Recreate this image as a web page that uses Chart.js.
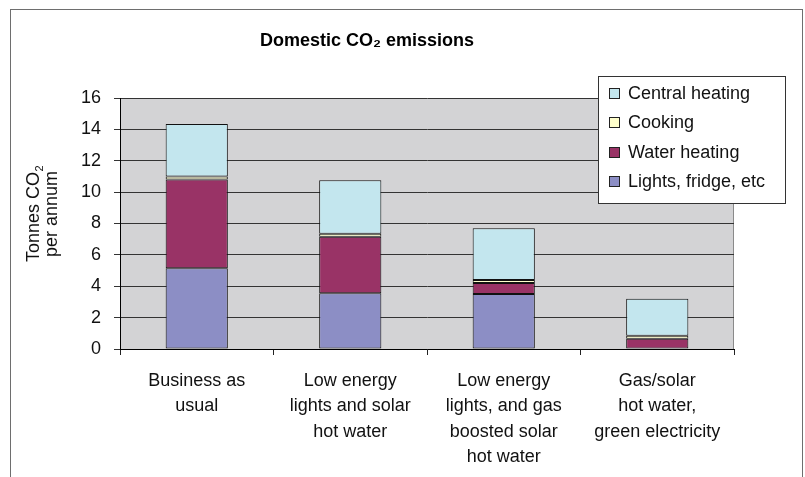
<!DOCTYPE html>
<html>
<head>
<meta charset="utf-8">
<script src="https://cdn.jsdelivr.net/npm/chart.js@4.4.1/dist/chart.umd.min.js"></script>
<style>
  html, body { margin: 0; padding: 0; background: #ffffff; }
  #wrap { width: 805px; height: 477px; position: relative; }
  canvas { display: block; }
</style>
</head>
<body>
<div id="wrap"><canvas id="c" width="805" height="477"></canvas></div>
<script>
// ---- Data ----
const categories = [
  ["Business as", "usual"],
  ["Low energy", "lights and solar", "hot water"],
  ["Low energy", "lights, and gas", "boosted solar", "hot water"],
  ["Gas/solar", "hot water,", "green electricity"]
];
const lightsFridge   = [5.15, 3.55, 3.5, 0];
const waterHeating   = [5.65, 3.6, 0.7, 0.65];
const cooking        = [0.2, 0.2, 0.2, 0.2];
const centralHeating = [3.35, 3.4, 3.3, 2.35];
const yTicks = [0, 2, 4, 6, 8, 10, 12, 14, 16];
const chartTitle = "Domestic CO\u2082 emissions";
const yTitleLine1 = "Tonnes CO";
const yTitleSub = "2";
const yTitleLine2 = "per annum";

const FONT = "'Liberation Sans', Arial, Helvetica, sans-serif";

// Plot background + outer frame
const framePlugin = {
  id: 'framePlugin',
  beforeDraw(chart) {
    const ctx = chart.ctx;
    const a = chart.chartArea;
    ctx.save();
    ctx.fillStyle = '#ffffff';
    ctx.fillRect(0, 0, chart.width, chart.height);
    ctx.strokeStyle = '#6e6e6e';
    ctx.lineWidth = 1;
    ctx.strokeRect(10.5, 9.5, 792, 520);
    ctx.fillStyle = '#d3d3d5';
    ctx.fillRect(a.left, a.top, a.right - a.left, a.bottom - a.top);
    ctx.strokeStyle = '#8a8a8a';
    ctx.beginPath();
    ctx.moveTo(Math.round(a.right) - 0.5, a.top);
    ctx.lineTo(Math.round(a.right) - 0.5, a.bottom);
    ctx.stroke();
    ctx.restore();
  }
};

// Y axis title (two rotated lines with subscript)
const yTitlePlugin = {
  id: 'yTitlePlugin',
  afterDraw(chart) {
    const ctx = chart.ctx;
    const cy = 214;
    ctx.save();
    ctx.fillStyle = '#111111';
    ctx.textBaseline = 'alphabetic';
    // line 1
    ctx.save();
    ctx.translate(38.5, cy);
    ctx.rotate(-Math.PI / 2);
    ctx.font = '18px ' + FONT;
    const w1 = ctx.measureText(yTitleLine1).width;
    ctx.font = '11px ' + FONT;
    const w2 = ctx.measureText(yTitleSub).width;
    const start = -(w1 + w2) / 2;
    ctx.textAlign = 'left';
    ctx.font = '18px ' + FONT;
    ctx.fillText(yTitleLine1, start, 0);
    ctx.font = '11px ' + FONT;
    ctx.fillText(yTitleSub, start + w1 + 0.5, 4);
    ctx.restore();
    // line 2
    ctx.save();
    ctx.translate(57, cy);
    ctx.rotate(-Math.PI / 2);
    ctx.font = '18px ' + FONT;
    ctx.textAlign = 'center';
    ctx.fillText(yTitleLine2, 0, 0);
    ctx.restore();
    ctx.restore();
  }
};

// Legend box (reversed order, top stack first)
const legendPlugin = {
  id: 'legendPlugin',
  afterDraw(chart) {
    const ctx = chart.ctx;
    ctx.save();
    ctx.fillStyle = '#ffffff';
    ctx.fillRect(598.5, 76.5, 187, 127);
    ctx.strokeStyle = '#333333';
    ctx.lineWidth = 1;
    ctx.strokeRect(598.5, 76.5, 187, 127);
    const ds = chart.data.datasets.slice().reverse();
    ctx.font = '18px ' + FONT;
    ctx.textBaseline = 'middle';
    ctx.textAlign = 'left';
    ds.forEach((d, i) => {
      const cyy = 92.7 + i * 29.5;
      ctx.fillStyle = d.backgroundColor;
      ctx.fillRect(609.5, Math.round(cyy - 5) + 0.5, 10, 10);
      ctx.strokeStyle = '#222222';
      ctx.strokeRect(609.5, Math.round(cyy - 5) + 0.5, 10, 10);
      ctx.fillStyle = '#111111';
      ctx.fillText(d.label, 628, cyy + 1);
    });
    ctx.restore();
  }
};

const barOpts = { borderColor: '#111111', borderWidth: 1, borderSkipped: false,
                  barPercentage: 0.405, categoryPercentage: 1.0 };

new Chart(document.getElementById('c'), {
  type: 'bar',
  data: {
    labels: categories,
    datasets: [
      Object.assign({ label: 'Lights, fridge, etc', data: lightsFridge, backgroundColor: '#8c8ec5' }, barOpts),
      Object.assign({ label: 'Water heating', data: waterHeating, backgroundColor: '#993366' }, barOpts),
      Object.assign({ label: 'Cooking', data: cooking, backgroundColor: '#ffffcc' }, barOpts),
      Object.assign({ label: 'Central heating', data: centralHeating, backgroundColor: '#c3e6ee' }, barOpts)
    ]
  },
  options: {
    responsive: false,
    devicePixelRatio: 1,
    animation: false,
    layout: { padding: { left: 0, right: 71, top: 0, bottom: 0 } },
    plugins: {
      legend: { display: false },
      tooltip: { enabled: false },
      title: {
        display: true,
        text: chartTitle,
        color: '#000000',
        font: { family: FONT, size: 18, weight: 'bold', lineHeight: 1.2 },
        padding: { top: 30, bottom: 46.4 }
      }
    },
    scales: {
      x: {
        stacked: true,
        offset: true,
        grid: { display: true, offset: true, drawOnChartArea: false, drawTicks: true, tickLength: 6, color: '#222222' },
        border: { display: true, color: '#000000', width: 1 },
        ticks: { color: '#111111', font: { family: FONT, size: 18, lineHeight: 1.39 }, padding: 14, maxRotation: 0, autoSkip: false },
        afterFit(scale) { scale.height = 128; }
      },
      y: {
        stacked: true,
        min: 0,
        max: 16,
        afterBuildTicks(scale) { scale.ticks = yTicks.map(v => ({ value: v })); },
        grid: { color: '#333333', tickLength: 6, drawTicks: true },
        border: { display: true, color: '#000000', width: 1 },
        ticks: { color: '#111111', font: { family: FONT, size: 18 }, padding: 13 },
        afterFit(scale) { scale.width = 120; }
      }
    }
  },
  plugins: [framePlugin, yTitlePlugin, legendPlugin]
});
</script>
</body>
</html>
